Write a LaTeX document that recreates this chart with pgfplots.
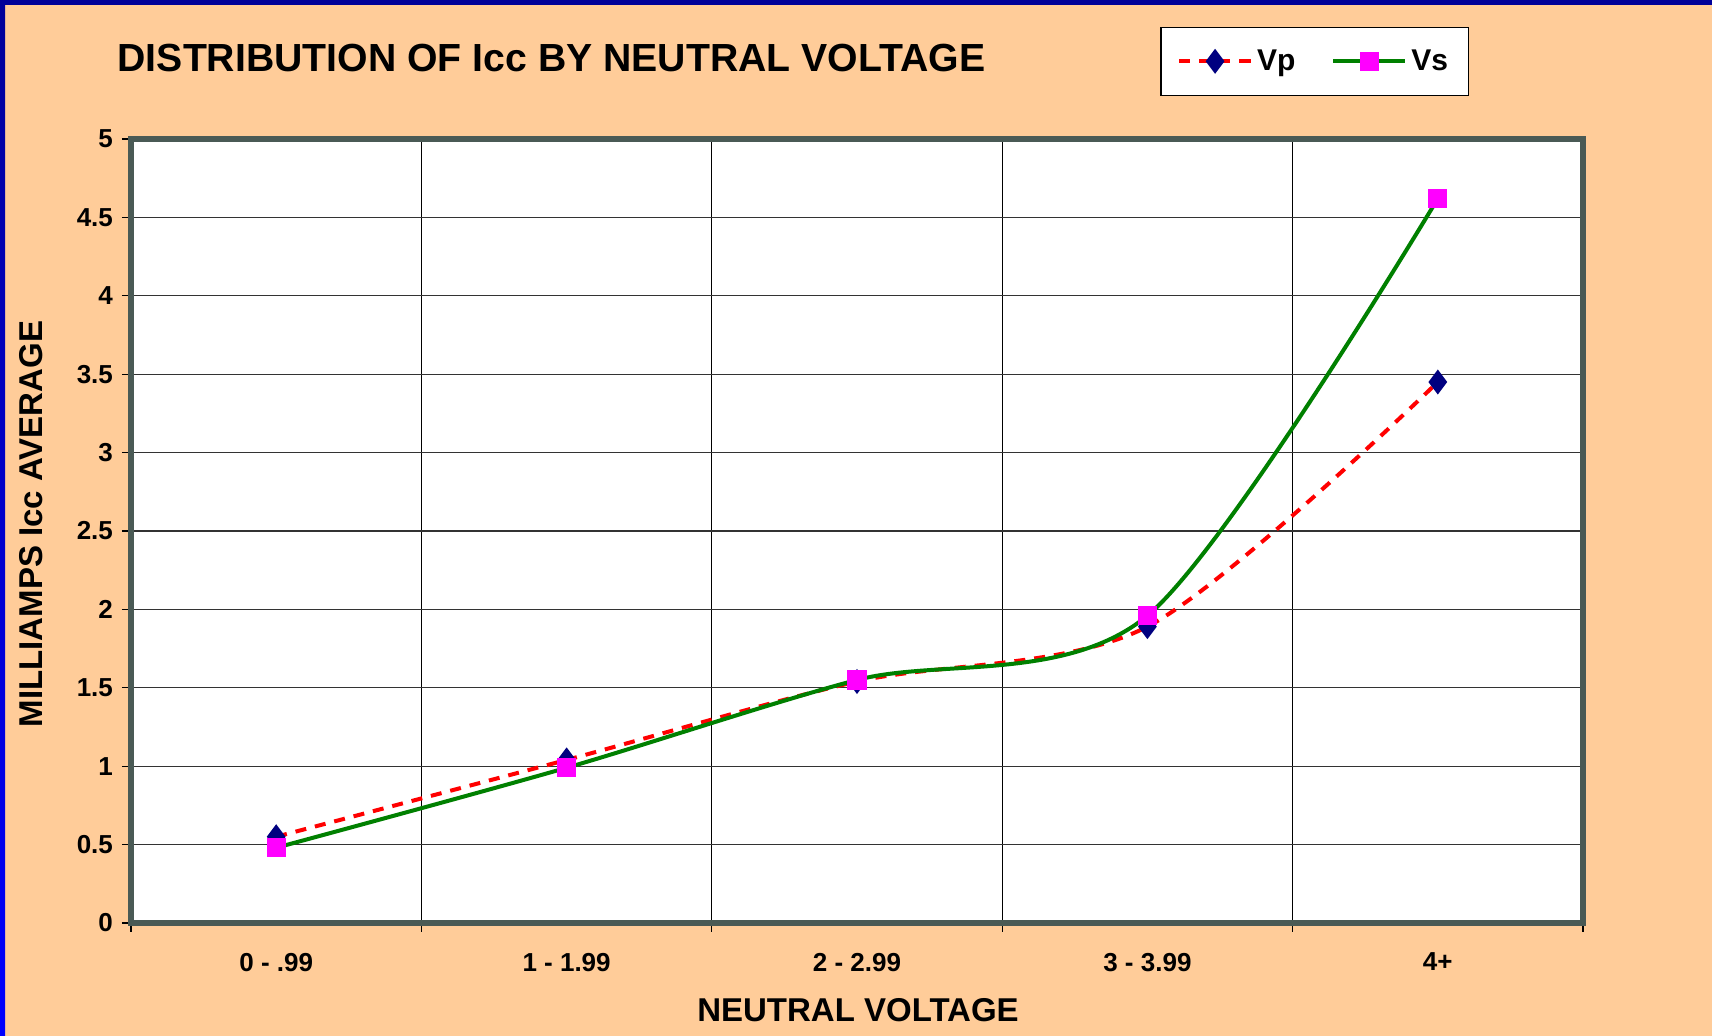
\documentclass[border=0pt]{standalone}
\usepackage{fontspec}
\setmainfont{Liberation Sans}
\usepackage{pgfplots}
\pgfplotsset{compat=1.18}
\definecolor{peach}{RGB}{255,204,153}
\definecolor{navyb}{RGB}{0,0,153}
\definecolor{brightb}{RGB}{0,0,255}
\definecolor{borderc}{RGB}{74,90,85}
\definecolor{vpline}{RGB}{255,0,0}
\definecolor{vpmark}{RGB}{0,0,128}
\definecolor{vsline}{RGB}{0,128,0}
\definecolor{vsmark}{RGB}{255,0,255}
\begin{document}
\begin{tikzpicture}
\fill[peach] (0,0) rectangle (856pt,518pt);
\shade[top color=navyb,bottom color=brightb] (0,0) rectangle (2.5pt,518pt);
\fill[navyb] (0,515.5pt) rectangle (856pt,518pt);
\node[anchor=west,font=\fontsize{19.6}{22}\selectfont\bfseries] at (55.3pt,489pt) {DISTRIBUTION OF Icc BY NEUTRAL VOLTAGE};
\node[rotate=90,font=\fontsize{16.5}{19}\selectfont\bfseries] at (15.5pt,256pt) {MILLIAMPS Icc AVERAGE};
\node[font=\fontsize{16.5}{19}\selectfont\bfseries] at (429pt,13pt) {NEUTRAL VOLTAGE};
\begin{axis}[
  at={(65.5pt,56.5pt)}, anchor=south west,
  scale only axis, width=726pt, height=392pt,
  xmin=-0.5, xmax=4.5, ymin=0, ymax=5,
  axis background/.style={fill=white},
  axis line style={draw=borderc, line width=3pt},
  xtick={0,1,2,3,4},
  xticklabels={0 - .99, 1 - 1.99, 2 - 2.99, 3 - 3.99, 4+},
  minor xtick={-0.5,0.5,1.5,2.5,3.5,4.5},
  ytick={0,0.5,...,5},
  yticklabels={0,0.5,1,1.5,2,2.5,3,3.5,4,4.5,5},
  xminorgrids=true, ymajorgrids=true,
  minor x grid style={black, line width=0.6pt},
  major y grid style={black!80, line width=0.6pt},
  tick align=outside,
  xtick pos=bottom, ytick pos=left,
  major x tick style={draw=none},
  minor x tick style={black, line width=0.6pt},
  major y tick style={black, line width=0.6pt},
  major tick length=4.5pt, minor tick length=4.5pt,
  /pgf/number format/assume math mode=true,
  ticklabel style={font=\fontsize{13}{15}\selectfont\bfseries},
  xticklabel style={yshift=-7pt},
  yticklabel style={xshift=-1pt},
  legend columns=2,
  legend style={at={(0.709,1.143)}, anchor=north west, draw=black, line width=0.6pt, fill=white,
    font=\fontsize{15}{17}\selectfont\bfseries, inner xsep=8pt, inner ysep=9pt,
    /tikz/every even column/.append style={column sep=16pt}},
  legend image code/.code={\draw[mark repeat=2,mark phase=2,line width=2pt] plot coordinates {(0pt,0pt) (18pt,0pt) (36pt,0pt)};},
  legend cell align=left,
]
\addplot[vpline, line width=2pt, dash pattern=on 5.5pt off 4.5pt, smooth, tension=0.5,
  mark=diamond*, mark size=4.6pt, mark options={solid, draw=vpmark, fill=vpmark}]
  coordinates {(0,0.55) (1,1.04) (2,1.54) (3,1.89) (4,3.45)};
\addlegendentry{Vp}
\addplot[vsline, line width=2pt, smooth, tension=0.5,
  mark=square*, mark size=3.8pt, mark options={solid, draw=vsmark, fill=vsmark}]
  coordinates {(0,0.48) (1,0.99) (2,1.55) (3,1.96) (4,4.62)};
\addlegendentry{Vs}
\end{axis}
\end{tikzpicture}
\end{document}
